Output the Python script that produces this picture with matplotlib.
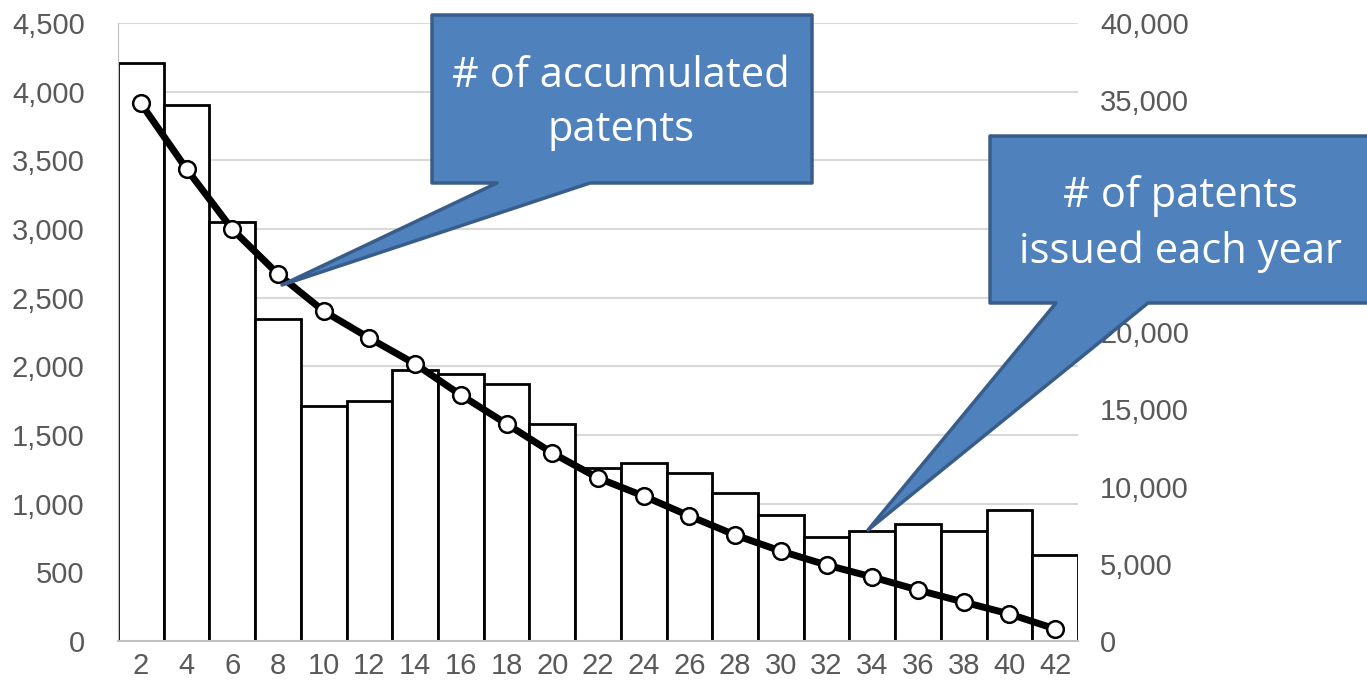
import matplotlib
matplotlib.use('Agg')
import matplotlib.pyplot as plt
from matplotlib.patches import Polygon
from matplotlib.ticker import FuncFormatter

# data
years = [2, 4, 6, 8, 10, 12, 14, 16, 18, 20, 22, 24, 26, 28, 30, 32, 34, 36, 38, 40, 42]
issued = [4210, 3900, 3050, 2345, 1710, 1750, 1970, 1945, 1870, 1580, 1260,
          1295, 1220, 1075, 915, 757, 800, 850, 800, 954, 626]
accum = [34800, 30550, 26650, 23750, 21350, 19600, 17930, 15920, 14050, 12170, 10550,
         9380, 8090, 6860, 5820, 4920, 4140, 3300, 2520, 1750, 780]

W, H = 1367, 693
fig = plt.figure(figsize=(W / 100, H / 100), dpi=100)
ax = fig.add_axes([118 / W, 1 - 641 / H, (1078 - 118) / W, (641 - 23) / H])

ax.bar(years, issued, width=2, color='white', edgecolor='black', linewidth=2, zorder=2)
ax.set_xlim(1, 43)
ax.set_ylim(0, 4500)
ax.set_yticks(range(0, 4501, 500))
ax.set_xticks(years)
ax.yaxis.grid(True, color='#d9d9d9', linewidth=1.5, zorder=0)
ax.set_axisbelow(True)
fmt = FuncFormatter(lambda v, p: f'{int(v):,}')
ax.yaxis.set_major_formatter(fmt)
for s in ['top', 'right']:
    ax.spines[s].set_visible(False)
ax.spines['left'].set_color('#bfbfbf')
ax.spines['bottom'].set_color('#bfbfbf')
ax.spines['bottom'].set_linewidth(1.5)
ax.tick_params(axis='y', length=0, labelsize=21, colors='#595959', pad=24)
ax.tick_params(axis='x', length=0, labelsize=21, colors='#595959', pad=8)
for lab in ax.get_xticklabels() + ax.get_yticklabels():
    lab.set_fontfamily('Liberation Sans')

ax2 = ax.twinx()
ax2.plot(years, accum, color='black', linewidth=5, marker='o', markersize=12,
         markerfacecolor='white', markeredgecolor='black', markeredgewidth=1.8, zorder=3)
ax2.set_ylim(0, 40000)
ax2.set_yticks(range(0, 40001, 5000))
ax2.yaxis.set_major_formatter(fmt)
for s in ['top', 'right', 'left', 'bottom']:
    ax2.spines[s].set_visible(False)
ax2.tick_params(length=0, labelsize=21, colors='#595959', pad=16)
for lab in ax2.get_yticklabels():
    lab.set_fontfamily('Liberation Sans')


def px(pts):
    return [(x / W, 1 - y / H) for x, y in pts]


def callout(pts, text, cx, cy):
    poly = Polygon(px(pts), closed=True, transform=fig.transFigure, facecolor='#4f81bd',
                   edgecolor='#385d8a', linewidth=2.5, joinstyle='round', zorder=10)
    fig.patches.append(poly)
    fig.text(cx / W, 1 - cy / H, text, ha='center', va='center', color='white',
             fontsize=30, fontfamily='Open Sans', linespacing=1.4, zorder=11)


callout([(432, 15), (812, 15), (812, 183), (590, 183), (282, 285), (497, 183), (432, 183)],
        '# of accumulated\npatents', 621, 103)
callout([(990, 136), (1370, 136), (1370, 303), (1148, 303), (868, 530), (1056, 303), (990, 303)],
        '# of patents\nissued each year', 1180, 224)

fig.savefig('out.png', dpi=100)
